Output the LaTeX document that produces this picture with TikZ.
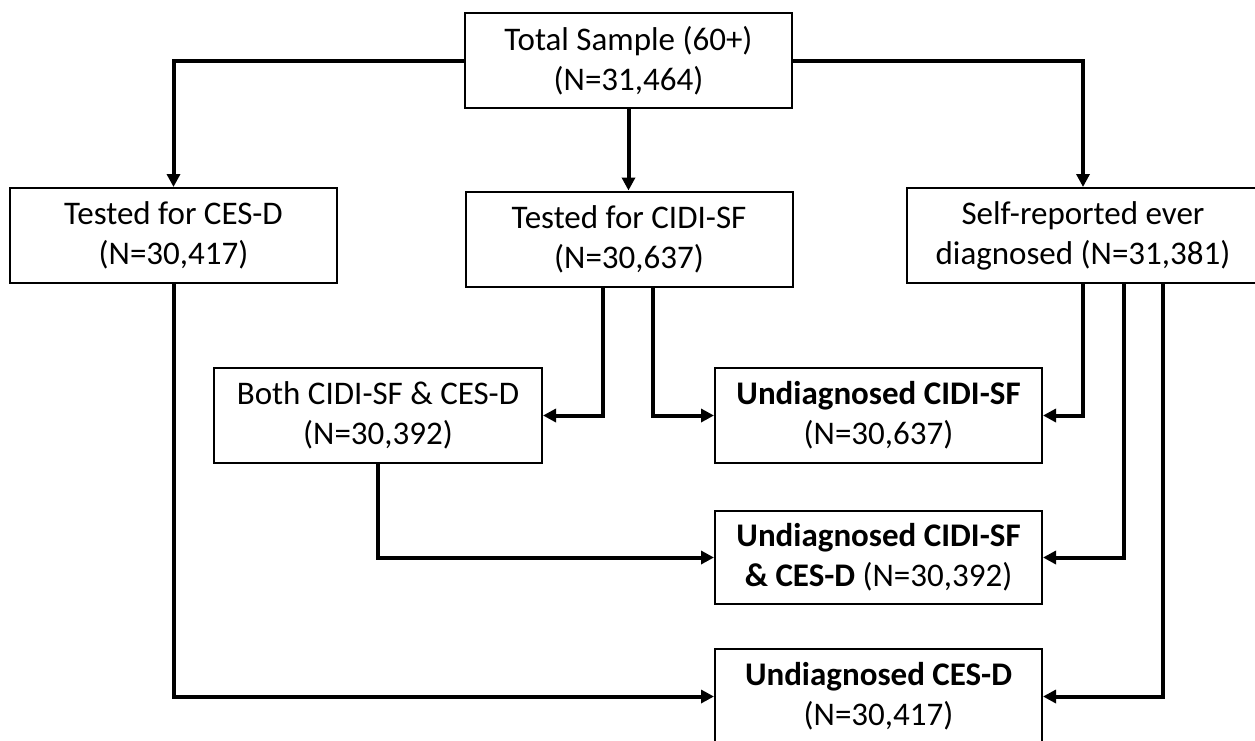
\documentclass[tikz,border=0pt]{standalone}
\usepackage{fontspec}
\setmainfont{Carlito}
\usetikzlibrary{arrows.meta}
\begin{document}
\begin{tikzpicture}[x=1pt,y=-1pt,
  box/.style={draw=black,line width=2pt,fill=white,align=center,inner sep=0pt,
    minimum width=327pt,minimum height=95pt,font=\fontsize{33}{40}\selectfont},
  conn/.style={line width=4pt,-{Triangle[length=13pt,width=13pt]}}]
\useasboundingbox (0,0) rectangle (1255,740);
\clip (0,0) rectangle (1255,740);
\fill[white] (0,0) rectangle (1255,740);
\node[box] (top) at (628.5,60.5) {Total Sample (60+)\\(N=31,464)};
\node[box] (lb) at (173.5,235.5) {Tested for CES-D\\(N=30,417)};
\node[box] (mb) at (629,239) {Tested for CIDI-SF\\(N=30,637)};
\node[box,minimum width=352pt] (rb) at (1083,235.5) {Self-reported ever\\diagnosed (N=31,381)};
\node[box,minimum width=328pt] (both) at (378,415.5) {Both CIDI-SF \& CES-D\\(N=30,392)};
\node[box] (u1) at (878.5,415.5) {\textbf{Undiagnosed CIDI-SF}\\(N=30,637)};
\node[box,minimum height=93pt] (u2) at (878.5,557.5) {\textbf{Undiagnosed CIDI-SF}\\\textbf{\& CES-D} (N=30,392)};
\node[box] (u3) at (878.5,696.5) {\textbf{Undiagnosed CES-D}\\(N=30,417)};
\coordinate (m1) at (603,287);
\coordinate (m2) at (653,287);
\coordinate (r2) at (1124,283);
\coordinate (r3) at (1163,283);
\draw[conn] (top.west) -| (lb.north);
\draw[conn] (top.south) -- (top.south |- mb.north);
\draw[conn] (top.east) -| (rb.north);
\draw[conn] (m1) |- (both.east);
\draw[conn] (m2) |- (u1.west);
\draw[conn] (rb.south) |- (u1.east);
\draw[conn] (r2) |- (u2.east);
\draw[conn] (r3) |- (u3.east);
\draw[conn] (both.south) |- (u2.west);
\draw[conn] (lb.south) |- (u3.west);
\end{tikzpicture}
\end{document}
